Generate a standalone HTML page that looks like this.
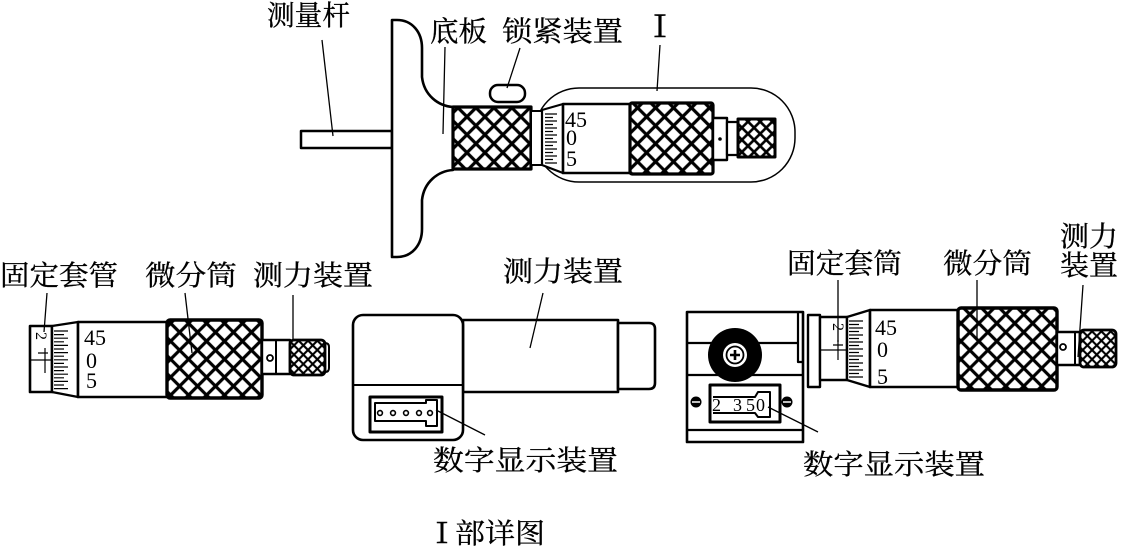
<!DOCTYPE html>
<html><head><meta charset="utf-8">
<style>
html,body{margin:0;padding:0;background:#fff}
svg{display:block}
.t{font-family:"Liberation Serif","Noto Serif CJK SC",serif;font-size:28px;fill:#000;stroke:#000;stroke-width:0.3}
.d{font-family:"Liberation Serif",serif;font-size:22px;fill:#000}
.r{font-family:"Noto Serif CJK SC","Liberation Serif",serif;fill:#000;stroke:#000;stroke-width:0.6}
</style></head>
<body>
<svg width="1122" height="547" viewBox="0 0 1122 547" xmlns="http://www.w3.org/2000/svg">
<defs>
<pattern id="kL" width="12.7" height="12.7" patternUnits="userSpaceOnUse" patternTransform="rotate(45)"><rect width="12.7" height="12.7" fill="#fff"/><path d="M0 6.35H12.7M6.35 0V12.7" stroke="#000" stroke-width="3.2"/></pattern>
<pattern id="kM" width="8.6" height="8.6" patternUnits="userSpaceOnUse" patternTransform="rotate(45)"><rect width="8.6" height="8.6" fill="#fff"/><path d="M0 4.3H8.6M4.3 0V8.6" stroke="#000" stroke-width="2.6"/></pattern>
<pattern id="kS" width="6.6" height="6.6" patternUnits="userSpaceOnUse" patternTransform="rotate(45)"><rect width="6.6" height="6.6" fill="#fff"/><path d="M0 3.3H6.6M3.3 0V6.6" stroke="#000" stroke-width="2.1"/></pattern>
</defs>

<g fill="none" stroke="#000" stroke-linejoin="round">
<!-- ===== TOP FIGURE ===== -->
<rect x="535" y="88" width="260" height="94" rx="44" stroke-width="1.5"/>
<rect x="301" y="131" width="91" height="17" fill="#fff" stroke-width="2.5"/>
<path d="M392,20 L397,20 C412,20 422,32 422,48 L422,77 C424,95 438,106 453,107 L453,170 C438,171 424,182 422,200 L422,229 C422,245 412,257 397,257 L392,257 Z" fill="#fff" stroke-width="2.6"/>
<rect x="453" y="107" width="78" height="62" fill="url(#kL)" stroke-width="3.2"/>
<rect x="490" y="85" width="35" height="17" rx="8" fill="#fff" stroke-width="2.5"/>
<rect x="531" y="111" width="11" height="54" fill="#fff" stroke-width="2"/>
<polygon points="542,110 563,104 563,173 542,165" fill="#fff" stroke-width="2.2"/>
<path d="M545 114H557M545 117.5H553M545 121H557M545 124.5H553M545 128H557M545 131.5H553M545 135H557M545 138.5H553M545 142H557M545 145.5H553M545 149H557M545 152.5H553M545 156H557M545 159.5H553M545 163H557" stroke-width="1.2"/>
<rect x="563" y="104" width="67" height="69" fill="#fff" stroke-width="2.6"/>
<rect x="630" y="103" width="83" height="71" rx="2" fill="url(#kL)" stroke-width="3.2"/>
<rect x="713" y="118" width="14" height="42" fill="#fff" stroke-width="2.4"/>
<rect x="727" y="122" width="11" height="33" fill="#fff" stroke-width="2.2"/>
<rect x="738" y="119" width="37" height="38" fill="url(#kM)" stroke-width="3"/>
<circle cx="720" cy="139" r="1.8" fill="#000" stroke="none"/>
<path d="M322 40L333 136M445 47L443 134M520 48L507 88M660 45L657 91" stroke-width="1.3"/>

<!-- ===== BOTTOM LEFT MICROMETER ===== -->
<rect x="30" y="326" width="22" height="66" fill="#fff" stroke-width="2.6"/>
<path d="M30 360H52M45 348V373M38 353H48" stroke-width="1.2"/>
<polygon points="52,326 78,322 78,397 52,392" fill="#fff" stroke-width="2.4"/>
<path d="M54 331H68M54 334.6H64M54 338.2H68M54 341.8H64M54 345.4H68M54 349H64M54 352.6H68M54 356.2H64M54 359.8H68M54 363.4H64M54 367H68M54 370.6H64M54 374.2H68M54 377.8H64M54 381.4H68M54 385H64M54 388.6H68" stroke-width="1.2"/>
<rect x="78" y="322" width="89" height="75" fill="#fff" stroke-width="2.6"/>
<rect x="167" y="320" width="95" height="78" rx="3" fill="url(#kL)" stroke-width="3.4"/>
<rect x="262" y="340" width="28" height="34" fill="#fff" stroke-width="2.4"/>
<path d="M276 340V374" stroke-width="2"/>
<circle cx="270" cy="358" r="3" fill="#fff" stroke-width="1.8"/>
<rect x="290" y="340" width="35" height="35" rx="4" fill="url(#kS)" stroke-width="2.8"/>
<path d="M325 343Q329 343 329 347V368Q329 372 325 372" stroke-width="2"/>
<path d="M47 293L44 332M185 293L192 353M293 295L293 340" stroke-width="1.3"/>

<!-- ===== MIDDLE DIGITAL ===== -->
<rect x="463" y="320" width="155" height="72" fill="#fff" stroke-width="2.6"/>
<path d="M618 323H649Q655 323 655 329V383Q655 389 649 389H618Z" fill="#fff" stroke-width="2.6"/>
<rect x="353" y="315" width="110" height="125" rx="10" fill="#fff" stroke-width="2.6"/>
<path d="M353 385H463" stroke-width="2"/>
<rect x="370" y="397" width="72" height="35" fill="#fff" stroke-width="3"/>
<path d="M375 403H426V400H437V426H426V421H375Z" stroke-width="2"/>
<g stroke-width="1.6" fill="#fff"><circle cx="380" cy="413" r="2.4"/><circle cx="393" cy="413" r="2.4"/><circle cx="406" cy="413" r="2.4"/><circle cx="419" cy="413" r="2.4"/><circle cx="430" cy="413" r="2.4"/></g>
<path d="M436 410L485 435M543 293L530 348" stroke-width="1.3"/>

<!-- ===== RIGHT MICROMETER ===== -->
<rect x="687" y="312" width="116" height="130" fill="#fff" stroke-width="2.6"/>
<path d="M687 343H798M687 375H803M687 430H803M798 312V362H803" stroke-width="2.2"/>
<circle cx="735" cy="355" r="27" fill="#000" stroke="none"/>
<circle cx="735" cy="355" r="12" fill="#fff" stroke="none"/>
<circle cx="735" cy="355" r="8.5" fill="#fff" stroke-width="1.8"/>
<path d="M735 350V360M730 355H740" stroke-width="2.6"/>
<circle cx="696" cy="402" r="5.5" fill="#000" stroke="none"/>
<circle cx="787" cy="402" r="5.5" fill="#000" stroke="none"/>
<path d="M692 402H700M783 402H791" stroke="#fff" stroke-width="1.6"/>
<rect x="710" y="385" width="70" height="37" fill="#fff" stroke-width="3"/>
<path d="M713 397H755L758 392H770V417H758L755 413H713" stroke-width="2"/>
<rect x="808" y="315" width="12" height="72" fill="#fff" stroke-width="2.4"/>
<rect x="820" y="317" width="27" height="63" fill="#fff" stroke-width="2.4"/>
<path d="M820 350H847M838 340V360M833 345H843" stroke-width="1.2"/>
<polygon points="847,317 870,310 870,387 847,380" fill="#fff" stroke-width="2.4"/>
<path d="M849 321H863M849 324.5H859M849 328H863M849 331.5H859M849 335H863M849 338.5H859M849 342H863M849 345.5H859M849 349H863M849 352.5H859M849 356H863M849 359.5H859M849 363H863M849 366.5H859M849 370H863M849 373.5H859M849 377H863" stroke-width="1.2"/>
<rect x="870" y="310" width="88" height="77" fill="#fff" stroke-width="2.6"/>
<rect x="958" y="308" width="99" height="82" rx="3" fill="url(#kL)" stroke-width="3.4"/>
<rect x="1057" y="332" width="23" height="33" fill="#fff" stroke-width="2.4"/>
<path d="M1075 332V365" stroke-width="2"/>
<circle cx="1063" cy="347" r="3" fill="#fff" stroke-width="1.8"/>
<rect x="1080" y="330" width="36" height="37" rx="4" fill="url(#kS)" stroke-width="2.8"/>
<path d="M838 280L838 342M977 280L977 338M1083 285L1078 357M768 407L818 432" stroke-width="1.3"/>
</g>

<!-- digits -->
<text class="d" x="565" y="127">45</text>
<text class="d" x="566" y="145">0</text>
<text class="d" x="566" y="166">5</text>
<text class="d" x="84" y="345">45</text>
<text class="d" x="86" y="368">0</text>
<text class="d" x="86" y="388">5</text>
<text class="d" x="875" y="335">45</text>
<text class="d" x="877" y="357">0</text>
<text class="d" x="877" y="384">5</text>
<text class="d" style="font-size:16px" transform="translate(36,332) rotate(90)">2</text>
<text class="d" style="font-size:16px" transform="translate(833,323) rotate(90)">2</text>
<text class="d" style="font-size:18px" x="712" y="411">2</text>
<text class="d" style="font-size:18px" x="733" y="411">3</text>
<text class="d" style="font-size:18px" x="746" y="411">5</text>
<text class="d" style="font-size:18px" x="756" y="411">0</text>

<!-- labels -->
<text class="t" x="267" y="25" textLength="83" lengthAdjust="spacingAndGlyphs">测量杆</text>
<text class="t" x="430" y="41" textLength="57" lengthAdjust="spacingAndGlyphs">底板</text>
<text class="t" x="502" y="41" textLength="121" lengthAdjust="spacingAndGlyphs">锁紧装置</text>
<text class="r" style="font-size:30px" x="660" y="37" text-anchor="middle">Ⅰ</text>
<text class="t" x="0" y="285" textLength="118" lengthAdjust="spacingAndGlyphs">固定套管</text>
<text class="t" x="145" y="285" textLength="92" lengthAdjust="spacingAndGlyphs">微分筒</text>
<text class="t" x="253" y="285" textLength="120" lengthAdjust="spacingAndGlyphs">测力装置</text>
<text class="t" x="503" y="281" textLength="120" lengthAdjust="spacingAndGlyphs">测力装置</text>
<text class="t" x="433" y="470" textLength="185" lengthAdjust="spacingAndGlyphs">数字显示装置</text>
<text class="t" x="787" y="273" textLength="115" lengthAdjust="spacingAndGlyphs">固定套筒</text>
<text class="t" x="943" y="273" textLength="89" lengthAdjust="spacingAndGlyphs">微分筒</text>
<text class="t" x="1060" y="246" textLength="58" lengthAdjust="spacingAndGlyphs">测力</text>
<text class="t" x="1060" y="275" textLength="58" lengthAdjust="spacingAndGlyphs">装置</text>
<text class="t" x="803" y="474" textLength="182" lengthAdjust="spacingAndGlyphs">数字显示装置</text>
<text class="r" style="font-size:28px" x="442" y="543" text-anchor="middle">Ⅰ</text>
<text class="t" x="455" y="543" textLength="90" lengthAdjust="spacingAndGlyphs">部详图</text>
</svg>
</body></html>
